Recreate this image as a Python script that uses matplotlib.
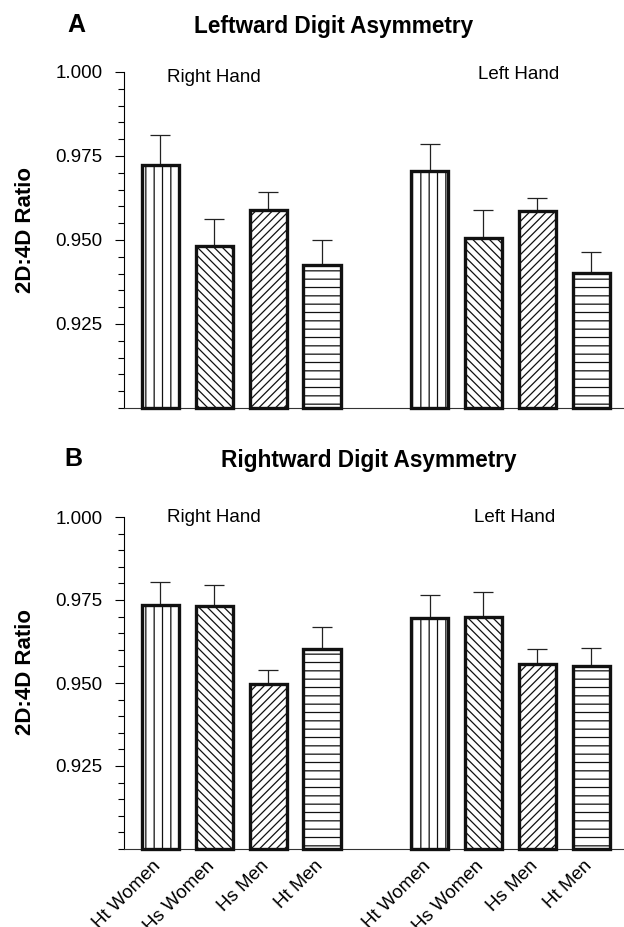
import numpy as np
import matplotlib

matplotlib.use("Agg")

import matplotlib.pyplot as plt  # noqa: E402
import matplotlib.transforms as mtransforms  # noqa: E402
from matplotlib.ticker import MultipleLocator, FormatStrFormatter  # noqa: E402

plt.rcParams["font.family"] = ["Liberation Sans", "DejaVu Sans"]
plt.rcParams["hatch.linewidth"] = 0.9
plt.rcParams["hatch.color"] = "black"

# ---------------------------------------------------------------------------
# data (อ่านค่าจากภาพ)
# ---------------------------------------------------------------------------
groups = ["Ht Women", "Hs Women", "Hs Men", "Ht Men"]
hatches = ["||", "\\\\\\\\", "////", "--"]

# A: leftward asymmetry
left_asym_right_hand = [0.9723, 0.9482, 0.9589, 0.9426]
left_asym_right_err = [0.0089, 0.0080, 0.0054, 0.0074]
left_asym_left_hand = [0.9705, 0.9506, 0.9586, 0.9402]
left_asym_left_err = [0.0080, 0.0083, 0.0039, 0.0062]

# B: rightward asymmetry
right_asym_right_hand = [0.9734, 0.9732, 0.9497, 0.9602]
right_asym_right_err = [0.0069, 0.0062, 0.0041, 0.0066]
right_asym_left_hand = [0.9695, 0.9700, 0.9558, 0.9552]
right_asym_left_err = [0.0069, 0.0074, 0.0044, 0.0053]

Y_MIN, Y_MAX = 0.900, 1.000
W, H = 624, 927


def draw_panel(ax, rh_vals, rh_err, lh_vals, lh_err, show_xlabels, hand_pos, ylab_y):
    pos_r = np.arange(len(groups))
    pos_l = pos_r + len(groups) + 1
    for pos, vals, err in ((pos_r, rh_vals, rh_err), (pos_l, lh_vals, lh_err)):
        base = np.full(len(vals), Y_MIN)
        heights = np.asarray(vals) - Y_MIN
        bars = ax.bar(pos, heights, bottom=base, width=0.69, color="white",
                      edgecolor="#111111", linewidth=2.4, zorder=3)
        for b, h in zip(bars, hatches):
            b.set_hatch(h)
            b.set_clip_on(False)
        ax.errorbar(pos, vals, yerr=[np.zeros(len(err)), err], fmt="none",
                    ecolor="#222222", elinewidth=0.9, capsize=7.2, capthick=0.9,
                    zorder=2)

    ax.set_ylim(Y_MIN, Y_MAX)
    ax.set_xlim(-0.678, 8.61)
    ax.yaxis.set_minor_locator(MultipleLocator(0.005))
    ax.yaxis.set_major_formatter(FormatStrFormatter("%.3f"))
    ax.set_yticks([0.925, 0.950, 0.975, 1.000])
    ax.tick_params(axis="y", which="major", length=6.5, width=0.8, pad=9,
                   labelsize=13.5)
    ax.tick_params(axis="y", which="minor", length=4.3, width=0.8)
    for side in ("top", "right"):
        ax.spines[side].set_visible(False)
    ax.spines["left"].set_linewidth(0.8)
    ax.spines["bottom"].set_linewidth(0.8)
    ax.spines["bottom"].set_color("#333333")

    if show_xlabels:
        ax.set_xticks(np.concatenate([pos_r, pos_l]))
        ax.set_xticklabels(groups + groups, rotation=45, ha="right",
                           rotation_mode="anchor", fontsize=13.5)
        ax.tick_params(axis="x", length=0, pad=6)
        # เลื่อนป้ายไปทางซ้ายเล็กน้อยให้ปลายข้อความตรงกลางแท่ง
        shift = mtransforms.ScaledTranslation(-0.08, 0, ax.figure.dpi_scale_trans)
        for lab in ax.get_xticklabels():
            lab.set_transform(lab.get_transform() + shift)
    else:
        ax.set_xticks([])

    ax.set_ylabel("2D:4D Ratio", fontsize=16, fontweight="bold")
    ax.yaxis.set_label_coords(-0.176, ylab_y)
    ax.text(1.0, hand_pos[0], "Right Hand", ha="center", va="center", fontsize=13.5)
    ax.text(hand_pos[2], hand_pos[1], "Left Hand", ha="center", va="center", fontsize=13.5)


fig = plt.figure(figsize=(W / 100, H / 100), dpi=100)

ax_a = fig.add_axes([124 / W, 1 - 408 / H, 1 - 124 / W, (408 - 72) / H])
ax_b = fig.add_axes([124 / W, 1 - 849 / H, 1 - 124 / W, (849 - 517) / H])

draw_panel(ax_a, left_asym_right_hand, left_asym_right_err,
           left_asym_left_hand, left_asym_left_err, False, (0.9985, 0.9994, 6.66), 0.53)
draw_panel(ax_b, right_asym_right_hand, right_asym_right_err,
           right_asym_left_hand, right_asym_left_err, True, (0.9997, 0.9997, 6.57), 0.533)

fig.text(76 / W, 1 - 25 / H, "A", ha="center", va="center", fontsize=18, fontweight="bold")
fig.text(333.5 / W, 1 - 26.5 / H, "Leftward Digit Asymmetry", ha="center", va="center",
         fontsize=16.3, fontweight="bold")
fig.text(73.5 / W, 1 - 459.5 / H, "B", ha="center", va="center", fontsize=18, fontweight="bold")
fig.text(369 / W, 1 - 460.5 / H, "Rightward Digit Asymmetry", ha="center", va="center",
         fontsize=16.3, fontweight="bold")

fig.savefig("out.png", dpi=100, facecolor="white")
